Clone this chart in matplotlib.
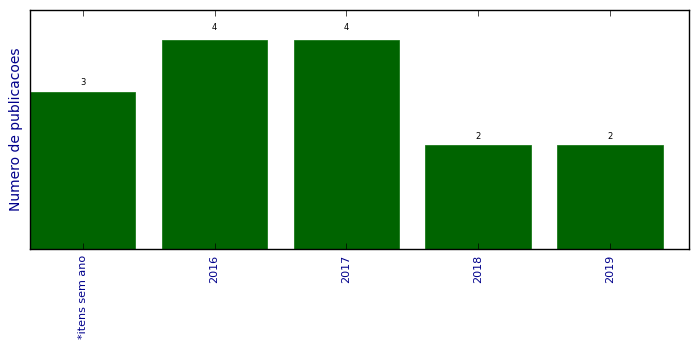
import matplotlib
matplotlib.use("Agg")
import matplotlib.pyplot as plt
import numpy as np

categorias = ["*itens sem ano", "2016", "2017", "2018", "2019"]
publicacoes = [3, 4, 4, 2, 2]

plt.style.use("classic")
fig = plt.figure(figsize=(6.99, 3.49), dpi=100)
ax = fig.add_axes([0.043, 0.2865, 0.9427, 0.6845])

x = np.arange(len(categorias))
barras = ax.bar(x, publicacoes, width=0.8, align="center",
                color="#006400", edgecolor="#1a7a1a", linewidth=0.6)

# rotulo acima de cada barra
for b in barras:
    h = b.get_height()
    ax.text(b.get_x() + b.get_width() / 2, 1.05 * h, "%d" % int(h),
            ha="center", va="baseline", fontsize=6)

ax.set_xlim(-0.4, 4.6)
ax.set_ylim(0, 4.575)
ax.set_xticks(x)
ax.set_xticklabels(categorias, rotation=90, fontsize=8, color="darkblue")
ax.set_yticks([])
ax.set_ylabel("Numero de publicacoes", fontsize=10, color="darkblue")

fig.savefig("out.png", dpi=100)
